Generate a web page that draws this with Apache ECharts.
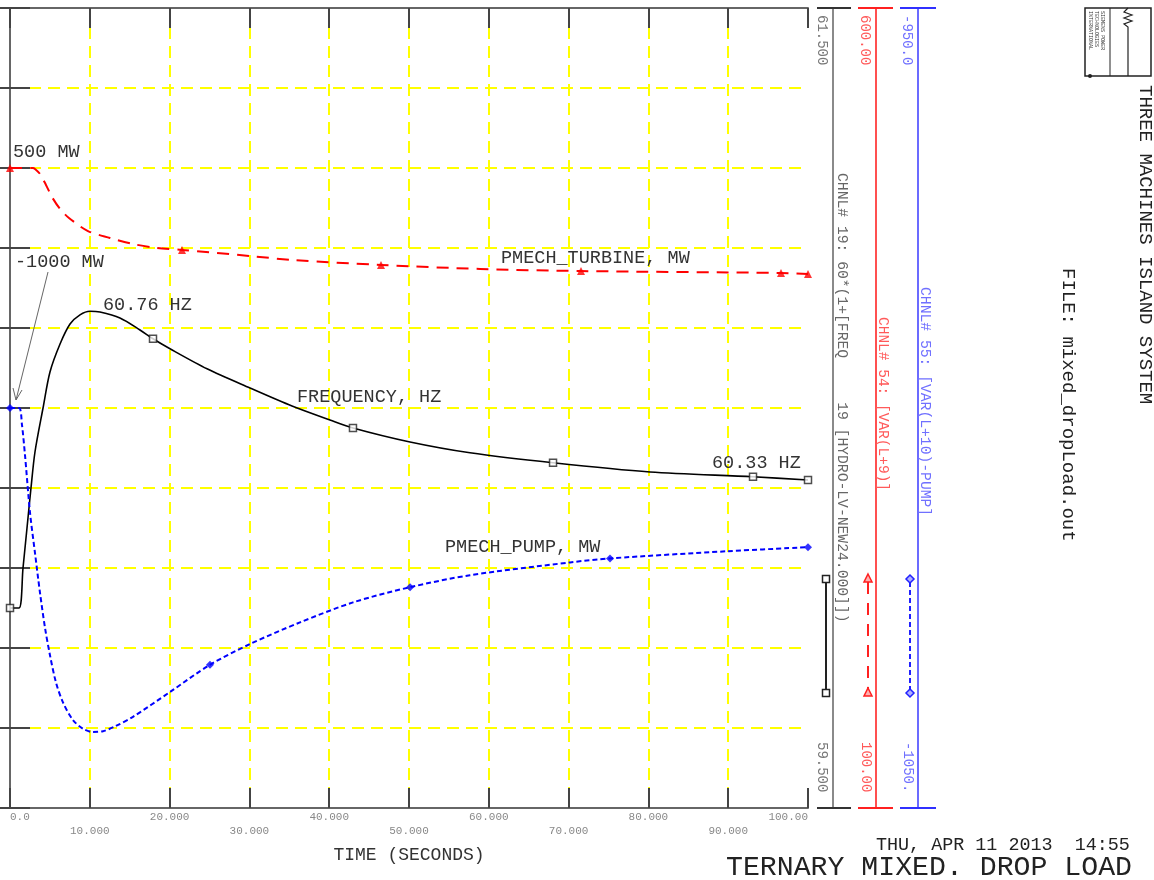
<!DOCTYPE html>
<html>
<head>
<meta charset="utf-8">
<script src="https://cdn.jsdelivr.net/npm/echarts@6/dist/echarts.min.js"></script>
<style>
html,body{margin:0;padding:0;background:#ffffff;}
#c{width:1154px;height:880px;}
</style>
</head>
<body>
<div id="c"></div>
<script>
// ---------------- DATA ----------------
const xTickLabels = ['0.0','10.000','20.000','30.000','40.000','50.000','60.000','70.000','80.000','90.000','100.00'];

// Frequency, Hz (channel 19)
const freqT = [0, 1.13, 1.63, 2.13, 2.63, 3.13, 4.14, 5.01, 6.27, 7.52, 8.77, 10.03, 11.28, 13.78, 16.29, 17.92, 20.05, 24.69, 30.08, 35.34, 40.10, 42.98, 50.13, 57.64, 68.05, 80.20, 93.11, 100];
const freqV = [60.00, 60.00, 60.10, 60.20, 60.30, 60.39, 60.50, 60.59, 60.66, 60.71, 60.733, 60.742, 60.74, 60.725, 60.695, 60.673, 60.648, 60.598, 60.55, 60.505, 60.47, 60.45, 60.415, 60.388, 60.363, 60.34, 60.328, 60.32];
const freqMarkT = [0, 17.92, 42.98, 68.05, 93.11, 100];
const freqMarkV = [60.00, 60.673, 60.45, 60.363, 60.328, 60.32];

// PMECH_TURBINE, MW (channel 54)
const turbT = [0, 2.88, 3.13, 3.76, 4.51, 5.26, 6.27, 7.39, 9.77, 12.53, 15.41, 18.42, 21.55, 30.08, 35.46, 46.49, 58.9, 71.55, 96.62, 100];
const turbV = [500, 500, 499.4, 496.3, 489.4, 481.9, 474.4, 468.8, 460.6, 456.3, 452.5, 450.0, 448.8, 445.0, 442.5, 439.4, 436.9, 435.6, 434.4, 433.8];
const turbMarkT = [0, 21.55, 46.49, 71.55, 96.62, 100];
const turbMarkV = [500, 448.8, 439.4, 435.6, 434.4, 433.8];

// PMECH_PUMP, MW (channel 55)
const pumpT = [0, 1.13, 1.5, 1.88, 2.51, 3.13, 3.76, 4.39, 5.01, 5.76, 6.64, 7.89, 9.15, 10.4, 11.65, 13.16, 15.41, 20.05, 25.06, 30.08, 36.34, 42.98, 50.13, 57.64, 70.18, 75.19, 89.97, 100];
const pumpV = [-1000, -1000, -1002.1, -1005.9, -1013.1, -1018.1, -1023.1, -1027.5, -1030.9, -1034.3, -1036.8, -1039.0, -1040.1, -1040.5, -1040.4, -1039.8, -1038.6, -1035.5, -1032.1, -1029.5, -1026.8, -1024.3, -1022.4, -1020.9, -1019.3, -1018.8, -1017.9, -1017.4];
const pumpMarkT = [0, 25.06, 50.13, 75.19, 100];
const pumpMarkV = [-1000, -1032.1, -1022.4, -1018.8, -1017.4];

// Axis scales
const freqRange = [59.5, 61.5];
const turbRange = [100, 600];
const pumpRange = [-1050, -950];
const freqRangeLabels = ['61.500', '59.500'];
const turbRangeLabels = ['600.00', '100.00'];
const pumpRangeLabels = ['-950.0', '-1050.'];

const chnlFreq = 'CHNL# 19: 60*(1+[FREQ     19 [HYDRO-LV-NEW24.000]])';
const chnlTurb = 'CHNL# 54: [VAR(L+9)]';
const chnlPump = 'CHNL# 55: [VAR(L+10)-PUMP]';

// ---------------- CHART ----------------
const zip = (a, b) => a.map((v, i) => [v, b[i]]);
const MONO = '"Liberation Mono", "DejaVu Sans Mono", monospace';
const chart = echarts.init(document.getElementById('c'), null, { renderer: 'canvas' });

const frameLine = { show: true, lineStyle: { color: '#666666', width: 2 } };
const innerTick = { show: true, inside: true, length: 20, lineStyle: { color: '#444444', width: 2 } };
const none = { show: false };
const yellowGrid = { show: true, showMinLine: false, showMaxLine: false, lineStyle: { color: '#ffff00', width: 2, type: [12, 7] } };

const xBase = { type: 'value', min: 0, max: 100, interval: 10, gridIndex: 0 };
const yRed = { type: 'value', min: turbRange[0], max: turbRange[1], interval: 50, gridIndex: 0 };

function vtext(x, y, text, color, size) {
  return { type: 'text', x: x, y: y, rotation: -Math.PI / 2, z: 10,
    style: { text: text, fill: color, font: size + 'px ' + MONO, align: 'left', verticalAlign: 'middle' } };
}
function htext(x, y, text, color, size, align) {
  return { type: 'text', x: x, y: y, z: 10,
    style: { text: text, fill: color, font: size + 'px ' + MONO, align: align || 'left', verticalAlign: 'middle' } };
}
function hline(x1, x2, y, color) {
  return { type: 'line', z: 10, shape: { x1: x1, y1: y, x2: x2, y2: y }, style: { stroke: color, lineWidth: 2 } };
}

const graphics = [
  // caps of the three scale bars
  hline(817, 851, 8, '#333333'), hline(817, 851, 808, '#333333'),
  hline(858, 893, 8, '#ff2020'), hline(858, 893, 808, '#ff2020'),
  hline(900, 936, 8, '#3030ff'), hline(900, 936, 808, '#3030ff'),
  // scale end labels
  vtext(822, 15, freqRangeLabels[0], '#777777', 14), vtext(822, 742, freqRangeLabels[1], '#777777', 14),
  vtext(865, 15, turbRangeLabels[0], '#ff5a5a', 14), vtext(866, 742, turbRangeLabels[1], '#ff5a5a', 14),
  vtext(907, 15, pumpRangeLabels[0], '#7070ff', 14), vtext(908, 742, pumpRangeLabels[1], '#7070ff', 14),
  // channel descriptions
  vtext(842, 173, chnlFreq, '#666666', 14.7),
  vtext(883, 317, chnlTurb, '#ff5a5a', 14.5),
  vtext(925, 287, chnlPump, '#7070ff', 14.7),
  // legend samples
  { type: 'line', z: 10, shape: { x1: 826, y1: 579, x2: 826, y2: 693 }, style: { stroke: '#222', lineWidth: 2 } },
  { type: 'rect', z: 11, shape: { x: 822.5, y: 575.5, width: 7, height: 7 }, style: { stroke: '#222', fill: '#fff', lineWidth: 1.5 } },
  { type: 'rect', z: 11, shape: { x: 822.5, y: 689.5, width: 7, height: 7 }, style: { stroke: '#222', fill: '#fff', lineWidth: 1.5 } },
  { type: 'line', z: 10, shape: { x1: 868, y1: 582, x2: 868, y2: 690 }, style: { stroke: '#ff2020', lineWidth: 2, lineDash: [12, 9] } },
  { type: 'polygon', z: 11, shape: { points: [[868, 574], [872, 582], [864, 582]] }, style: { stroke: '#ff2020', fill: '#ffb0b0', lineWidth: 1.5 } },
  { type: 'polygon', z: 11, shape: { points: [[868, 688], [872, 696], [864, 696]] }, style: { stroke: '#ff2020', fill: '#ffb0b0', lineWidth: 1.5 } },
  { type: 'line', z: 10, shape: { x1: 910, y1: 582, x2: 910, y2: 690 }, style: { stroke: '#2020ff', lineWidth: 2, lineDash: [5, 3] } },
  { type: 'polygon', z: 11, shape: { points: [[910, 575], [914, 579], [910, 583], [906, 579]] }, style: { stroke: '#2020ff', fill: '#b0b0ff', lineWidth: 1.5 } },
  { type: 'polygon', z: 11, shape: { points: [[910, 689], [914, 693], [910, 697], [906, 693]] }, style: { stroke: '#2020ff', fill: '#b0b0ff', lineWidth: 1.5 } },
  // in-plot annotations
  htext(13, 152, '500 MW', '#333333', 18.5),
  htext(15, 262, '-1000 MW', '#333333', 18.5),
  htext(103, 305, '60.76 HZ', '#333333', 18.5),
  htext(297, 397, 'FREQUENCY, HZ', '#333333', 18.5),
  htext(501, 258, 'PMECH_TURBINE, MW', '#333333', 18.5),
  htext(445, 547, 'PMECH_PUMP, MW', '#333333', 18.5),
  htext(712, 463, '60.33 HZ', '#333333', 18.5),
  // arrow from "-1000 MW" to the pump start point
  { type: 'line', z: 10, shape: { x1: 48, y1: 272, x2: 16, y2: 400 }, style: { stroke: '#666', lineWidth: 1 } },
  { type: 'polyline', z: 10, shape: { points: [[13, 388], [16, 400], [22, 390]] }, style: { stroke: '#666', lineWidth: 1, fill: null } },
  // titles
  vtext(1145, 85, 'THREE MACHINES ISLAND SYSTEM', '#222222', 19),
  vtext(1068, 268, 'FILE: mixed_dropLoad.out', '#222222', 19),
  htext(876, 845, 'THU, APR 11 2013  14:55', '#222222', 18.4),
  htext(726, 868, 'TERNARY MIXED. DROP LOAD', '#222222', 28.2),
  // logo
  { type: 'rect', z: 10, shape: { x: 1085, y: 8, width: 66, height: 68 }, style: { stroke: '#222', fill: '#fff', lineWidth: 1.5 } },
  { type: 'line', z: 10, shape: { x1: 1110, y1: 8, x2: 1110, y2: 76 }, style: { stroke: '#222', lineWidth: 1 } },
  { type: 'polyline', z: 10, shape: { points: [[1128, 8], [1124, 12], [1132, 15], [1124, 18], [1132, 21], [1124, 24], [1128, 27], [1128, 76]] }, style: { stroke: '#222', lineWidth: 1.2, fill: null } },
  { type: 'circle', z: 11, shape: { cx: 1090, cy: 76, r: 2 }, style: { fill: '#222' } },
  vtext(1102, 11, 'SIEMENS POWER', '#333', 5),
  vtext(1096, 11, 'TECHNOLOGIES', '#333', 5),
  vtext(1090, 11, 'INTERNATIONAL', '#333', 5)
];

const option = {
  animation: false,
  backgroundColor: '#ffffff',
  grid: [{ left: 10, top: 8, width: 798, height: 800, containLabel: false }],
  xAxis: [
    Object.assign({}, xBase, {
      position: 'bottom', z: 4, axisLine: frameLine, axisTick: innerTick, splitLine: none,
      name: 'TIME (SECONDS)', nameLocation: 'middle', nameGap: 38,
      nameTextStyle: { fontFamily: MONO, fontSize: 18, color: '#333333' },
      axisLabel: {
        show: true, margin: 2, fontFamily: MONO, fontSize: 11, color: '#888888', lineHeight: 14,
        alignMinLabel: 'left', alignMaxLabel: 'right',
        formatter: function (v) {
          const i = Math.round(v / 10);
          return i % 2 === 0 ? xTickLabels[i] : '\n' + xTickLabels[i];
        }
      }
    }),
    Object.assign({}, xBase, { position: 'top', z: 4, axisLine: frameLine, axisTick: innerTick, axisLabel: none, splitLine: none }),
    Object.assign({}, xBase, { position: 'bottom', z: 1, axisLine: none, axisTick: none, axisLabel: none, splitLine: yellowGrid })
  ],
  yAxis: [
    Object.assign({}, yRed, { position: 'left', z: 4, axisLine: frameLine, axisTick: innerTick, axisLabel: none, splitLine: none }),
    Object.assign({}, yRed, { position: 'right', offset: 0, z: 4, axisLine: frameLine, axisTick: innerTick, axisLabel: none, splitLine: none }),
    Object.assign({}, yRed, { position: 'left', z: 1, axisLine: none, axisTick: none, axisLabel: none, splitLine: yellowGrid }),
    { type: 'value', gridIndex: 0, min: freqRange[0], max: freqRange[1], position: 'right', offset: 25, z: 4,
      axisLine: { show: true, lineStyle: { color: '#8a8a8a', width: 2 } }, axisTick: none, axisLabel: none, splitLine: none },
    { type: 'value', gridIndex: 0, min: turbRange[0], max: turbRange[1], position: 'right', offset: 68, z: 4,
      axisLine: { show: true, lineStyle: { color: '#ff5050', width: 2 } }, axisTick: none, axisLabel: none, splitLine: none },
    { type: 'value', gridIndex: 0, min: pumpRange[0], max: pumpRange[1], position: 'right', offset: 110, z: 4,
      axisLine: { show: true, lineStyle: { color: '#6b6bff', width: 2 } }, axisTick: none, axisLabel: none, splitLine: none }
  ],
  series: [
    { type: 'line', name: 'PMECH_TURBINE', xAxisIndex: 0, yAxisIndex: 0, data: zip(turbT, turbV),
      smooth: 0.3, symbol: 'none', z: 5, lineStyle: { color: '#ff0000', width: 2, type: [12, 8] } },
    { type: 'scatter', xAxisIndex: 0, yAxisIndex: 0, data: zip(turbMarkT, turbMarkV),
      symbol: 'triangle', symbolSize: 8, z: 6, itemStyle: { color: '#ff0000' } },
    { type: 'line', name: 'FREQUENCY', xAxisIndex: 0, yAxisIndex: 3, data: zip(freqT, freqV),
      smooth: 0.3, symbol: 'none', z: 5, lineStyle: { color: '#000000', width: 1.6 } },
    { type: 'scatter', xAxisIndex: 0, yAxisIndex: 3, data: zip(freqMarkT, freqMarkV),
      symbol: 'rect', symbolSize: 7, z: 6, itemStyle: { color: '#ffffff', borderColor: '#222222', borderWidth: 1.5 } },
    { type: 'line', name: 'PMECH_PUMP', xAxisIndex: 0, yAxisIndex: 5, data: zip(pumpT, pumpV),
      smooth: 0.3, symbol: 'none', z: 5, lineStyle: { color: '#0000ff', width: 2, type: [5, 3] } },
    { type: 'scatter', xAxisIndex: 0, yAxisIndex: 5, data: zip(pumpMarkT, pumpMarkV),
      symbol: 'diamond', symbolSize: 8, z: 6, itemStyle: { color: '#0000ff' } }
  ],
  graphic: graphics
};
chart.setOption(option);
</script>
</body>
</html>
